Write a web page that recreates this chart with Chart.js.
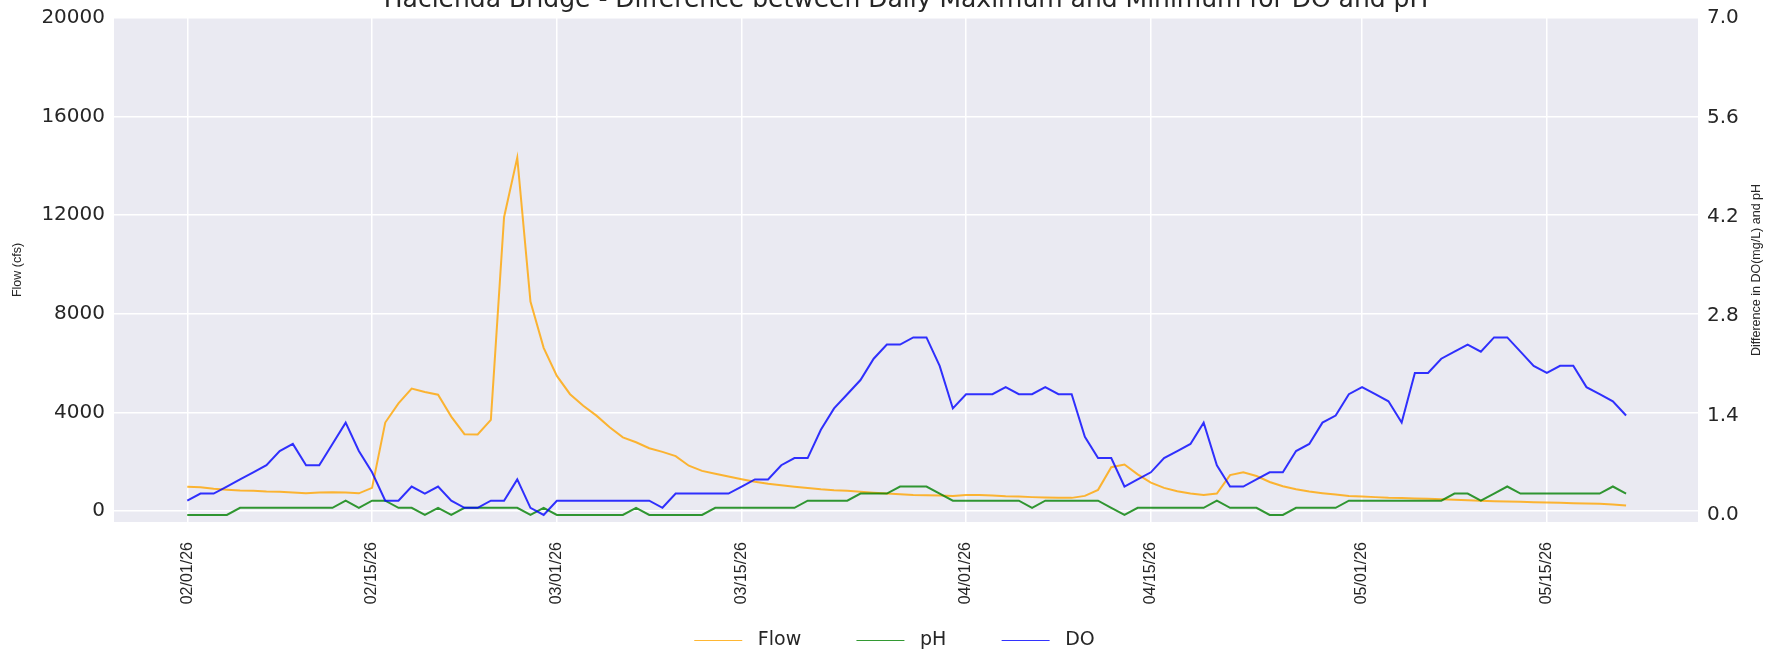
<!DOCTYPE html>
<html>
<head>
<meta charset="utf-8">
<title>Hacienda Bridge</title>
<script src="https://cdn.jsdelivr.net/npm/chart.js@4.4.1/dist/chart.umd.min.js"></script>
<style>
  html, body { margin: 0; padding: 0; background: #fff; overflow: hidden; }
</style>
</head>
<body>
<canvas id="mainChart" width="1789" height="654"></canvas>
<script>
// daily values, 02/01/26 .. 05/20/26 (day index = position in array)
const flow = [
  990, 965, 900, 860, 830, 820, 790, 780, 750, 720,
  750, 765, 750, 720, 940, 3590, 4370, 4970, 4830, 4720,
  3830, 3120, 3110, 3700, 11920, 14335, 8500, 6620, 5480, 4740,
  4270, 3870, 3400, 2990, 2790, 2550, 2400, 2230, 1840, 1630,
  1510, 1400, 1290, 1190, 1110, 1045, 990, 940, 885, 845,
  820, 780, 740, 710, 685, 655, 645, 630, 615, 655,
  655, 630, 600, 590, 565, 550, 535, 535, 615, 860,
  1780, 1890, 1490, 1150, 940, 805, 710, 655, 710, 1460,
  1570, 1420, 1180, 1005, 885, 790, 725, 670, 615, 590,
  565, 535, 525, 510, 495, 480, 455, 440, 415, 400,
  390, 375, 360, 350, 335, 320, 310, 295, 270, 230
];
const ph = [
  0, 0, 0, 0, 0.1, 0.1, 0.1, 0.1, 0.1, 0.1,
  0.1, 0.1, 0.2, 0.1, 0.2, 0.2, 0.1, 0.1, 0, 0.1,
  0, 0.1, 0.1, 0.1, 0.1, 0.1, 0, 0.1, 0, 0,
  0, 0, 0, 0, 0.1, 0, 0, 0, 0, 0,
  0.1, 0.1, 0.1, 0.1, 0.1, 0.1, 0.1, 0.2, 0.2, 0.2,
  0.2, 0.3, 0.3, 0.3, 0.4, 0.4, 0.4, 0.3, 0.2, 0.2,
  0.2, 0.2, 0.2, 0.2, 0.1, 0.2, 0.2, 0.2, 0.2, 0.2,
  0.1, 0, 0.1, 0.1, 0.1, 0.1, 0.1, 0.1, 0.2, 0.1,
  0.1, 0.1, 0, 0, 0.1, 0.1, 0.1, 0.1, 0.2, 0.2,
  0.2, 0.2, 0.2, 0.2, 0.2, 0.2, 0.3, 0.3, 0.2, 0.3,
  0.4, 0.3, 0.3, 0.3, 0.3, 0.3, 0.3, 0.3, 0.4, 0.3
];
const dOxy = [
  0.2, 0.3, 0.3, 0.4, 0.5, 0.6, 0.7, 0.9, 1.0, 0.7,
  0.7, 1.0, 1.3, 0.9, 0.6, 0.2, 0.2, 0.4, 0.3, 0.4,
  0.2, 0.1, 0.1, 0.2, 0.2, 0.5, 0.1, 0.0, 0.2, 0.2,
  0.2, 0.2, 0.2, 0.2, 0.2, 0.2, 0.1, 0.3, 0.3, 0.3,
  0.3, 0.3, 0.4, 0.5, 0.5, 0.7, 0.8, 0.8, 1.2, 1.5,
  1.7, 1.9, 2.2, 2.4, 2.4, 2.5, 2.5, 2.1, 1.5, 1.7,
  1.7, 1.7, 1.8, 1.7, 1.7, 1.8, 1.7, 1.7, 1.1, 0.8,
  0.8, 0.4, 0.5, 0.6, 0.8, 0.9, 1.0, 1.3, 0.7, 0.4,
  0.4, 0.5, 0.6, 0.6, 0.9, 1.0, 1.3, 1.4, 1.7, 1.8,
  1.7, 1.6, 1.3, 2.0, 2.0, 2.2, 2.3, 2.4, 2.3, 2.5,
  2.5, 2.3, 2.1, 2.0, 2.1, 2.1, 1.8, 1.7, 1.6, 1.4
];

const tickDays = [0, 14, 28, 42, 59, 73, 89, 103];
const tickLabels = ['02/01/26', '02/15/26', '03/01/26', '03/15/26', '04/01/26', '04/15/26', '05/01/26', '05/15/26'];
const flowTicks = [0, 4000, 8000, 12000, 16000, 20000];
const diffTicks = [0, 1.4, 2.8, 4.2, 5.6, 7.0];

const chartTitle = 'Hacienda Bridge - Difference between Daily Maximum and Minimum for DO and pH';
const rightTitle = 'Difference in DO(mg/L) and pH';

const textColor = '#262626';
const wide = 'DejaVu Sans';
const narrow = 'Liberation Sans';
const nbsp = '\u00A0';

const toPoints = arr => arr.map((v, i) => ({ x: i, y: v }));

// seaborn-like plot background + cut-off title + right axis label
const decor = {
  id: 'decor',
  afterLayout(chart) {
    // legend sits a little lower in the original
    chart.legend.top += 6;
    chart.legend.bottom += 6;
  },
  beforeDraw(chart) {
    const { ctx, chartArea: a } = chart;
    ctx.save();
    ctx.fillStyle = '#eaeaf2';
    ctx.fillRect(a.left, a.top, a.right - a.left, a.bottom - a.top);
    ctx.restore();
  },
  afterDraw(chart) {
    const { ctx, chartArea: a } = chart;
    ctx.save();
    ctx.fillStyle = textColor;
    ctx.font = '25px "' + wide + '"';
    ctx.textAlign = 'center';
    ctx.textBaseline = 'alphabetic';
    ctx.fillText(chartTitle, (a.left + a.right) / 2, a.top - 11);

    ctx.font = '12.5px "' + narrow + '"';
    ctx.translate(a.right + 59, (a.top + a.bottom) / 2);
    ctx.rotate(-Math.PI / 2);
    ctx.textBaseline = 'middle';
    ctx.fillText(rightTitle, 0, 0);
    ctx.restore();
  }
};

// legend in dataset order, with wider gaps around the label text
const legendLabels = chart => {
  const items = Chart.defaults.plugins.legend.labels.generateLabels(chart)
    .sort((a, b) => a.datasetIndex - b.datasetIndex);
  items.forEach((it, i) => {
    it.text = nbsp + it.text + (i < items.length - 1 ? nbsp.repeat(7) : '');
  });
  return items;
};

const ctx = document.getElementById('mainChart').getContext('2d');

let chart = new Chart(ctx, {
  type: 'line',
  data: {
    datasets: [
      {
        label: 'Flow',
        data: toPoints(flow),
        borderColor: 'rgba(255,165,0,0.8)',
        backgroundColor: 'rgba(255,165,0,0.8)',
        yAxisID: 'y',
        order: 3
      },
      {
        label: 'pH',
        data: toPoints(ph),
        borderColor: 'rgba(0,128,0,0.8)',
        backgroundColor: 'rgba(0,128,0,0.8)',
        yAxisID: 'y1',
        order: 2
      },
      {
        label: 'DO',
        data: toPoints(dOxy),
        borderColor: 'rgba(0,0,255,0.8)',
        backgroundColor: 'rgba(0,0,255,0.8)',
        yAxisID: 'y1',
        order: 1
      }
    ]
  },
  options: {
    responsive: false,
    animation: false,
    devicePixelRatio: 1,
    layout: { padding: { top: 16, left: 0, right: 0, bottom: 0 } },
    elements: {
      point: { radius: 0 },
      line: { borderWidth: 2, tension: 0 }
    },
    plugins: {
      tooltip: { enabled: false },
      legend: {
        position: 'bottom',
        labels: {
          usePointStyle: true,
          pointStyle: 'line',
          pointStyleWidth: 48,
          padding: 13,
          color: textColor,
          font: { family: wide, size: 19 },
          generateLabels: legendLabels
        }
      }
    },
    scales: {
      x: {
        type: 'linear',
        min: -5.55,
        max: 114.45,
        afterBuildTicks: axis => { axis.ticks = tickDays.map(v => ({ value: v })); },
        afterFit: s => { s.height = 90; },
        ticks: {
          autoSkip: false,
          minRotation: 90,
          maxRotation: 90,
          padding: 20,
          color: textColor,
          font: { family: narrow, size: 16 },
          callback: (v, i) => tickLabels[i]
        },
        grid: { color: '#ffffff', lineWidth: 1.5, drawTicks: false },
        border: { display: false }
      },
      y: {
        position: 'left',
        min: -444,
        max: 20000,
        afterBuildTicks: axis => { axis.ticks = flowTicks.map(v => ({ value: v })); },
        afterFit: s => { s.width = 114; },
        ticks: {
          padding: 9,
          color: textColor,
          font: { family: wide, size: 20, lineHeight: 0.9 },
          callback: v => String(v)
        },
        title: {
          display: true,
          text: 'Flow (cfs)',
          color: textColor,
          font: { family: narrow, size: 12.5 },
          padding: { top: 10, bottom: 0 }
        },
        grid: { color: '#ffffff', lineWidth: 1.5, drawTicks: false },
        border: { display: false }
      },
      y1: {
        position: 'right',
        min: -0.1,
        max: 7.0,
        afterBuildTicks: axis => { axis.ticks = diffTicks.map(v => ({ value: v })); },
        afterFit: s => { s.width = 91; },
        ticks: {
          padding: 9,
          color: textColor,
          font: { family: wide, size: 20, lineHeight: 0.9 },
          callback: v => v.toFixed(1)
        },
        grid: { display: false, drawTicks: false },
        border: { display: false }
      }
    }
  },
  plugins: [decor]
});
</script>
</body>
</html>
